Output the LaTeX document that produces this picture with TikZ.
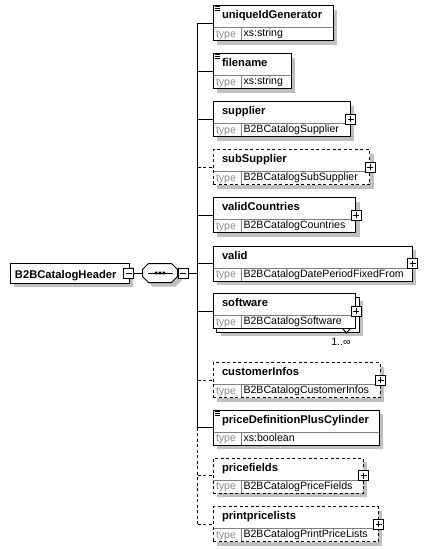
\documentclass[tikz,border=0pt]{standalone}
\usepackage{fontspec}
\setmainfont{Liberation Sans}
\usetikzlibrary{shapes.misc, shadows}

\definecolor{shadowgray}{RGB}{192,192,192}
\definecolor{divgray}{RGB}{128,128,128}
\definecolor{typegray}{RGB}{140,140,140}

\begin{document}
\begin{tikzpicture}[x=1pt, y=-1pt, line width=1pt, line join=miter,
	boxbase/.style={draw, fill=white, anchor=north west, inner sep=0pt, minimum height=35pt},
	shadowed/.style={drop shadow={shadow xshift=4pt, shadow yshift=-4pt, fill=shadowgray, opacity=1}},
	typed/.style={path picture={
		\draw[divgray, solid] ([yshift=-22pt]path picture bounding box.north west) -- ([yshift=-22pt]path picture bounding box.north east);
		\draw[divgray, solid] ([shift={(28pt,-22pt)}]path picture bounding box.north west) -- ([xshift=28pt]path picture bounding box.south west);
		\node[typelabel] at ([shift={(2.5pt,-31.8pt)}]path picture bounding box.north west) {type};}},
	elbox/.style={boxbase, shadowed, typed},
	optbox/.style={elbox, dash pattern=on 3pt off 2.5pt},
	optline/.style={dash pattern=on 3pt off 2.5pt},
	elname/.style={anchor=base west, inner sep=0pt, font=\bfseries\fontsize{11.2}{13}\selectfont},
	elvalue/.style={anchor=base west, inner sep=0pt, font=\fontsize{10.6}{12}\selectfont},
	typelabel/.style={elvalue, text=typegray, draw=none, fill=none, minimum width=0pt, minimum height=0pt},
	plusbox/.style={draw, solid, fill=white, minimum size=10pt, inner sep=0pt, path picture={
		\draw ([xshift=-3pt]path picture bounding box.center) -- ([xshift=3pt]path picture bounding box.center)
			([yshift=-3pt]path picture bounding box.center) -- ([yshift=3pt]path picture bounding box.center);}},
	minusbox/.style={draw, fill=white, minimum size=10pt, inner sep=0pt, path picture={
		\draw ([xshift=-3pt]path picture bounding box.center) -- ([xshift=3pt]path picture bounding box.center);}},
	octbox/.style={chamfered rectangle, chamfered rectangle xsep=3.5pt, chamfered rectangle ysep=3.5pt, draw, fill=white, inner sep=0pt, shadowed},
	simpleicon/.style={line width=0.8pt, line cap=butt}]

	\useasboundingbox (0,0) rectangle (426,550);

	% header and sequence
	\node[octbox, minimum width=119pt, minimum height=20pt] (hdr) at (69.5,273) {};
	\node[elname] at ([shift={(5pt,-5.3pt)}]hdr.west) {B2BCatalogHeader};
	\node[minusbox] (hdrminus) at ([xshift=-1pt]hdr.east) {};
	\node[inner sep=0pt, minimum width=34pt, minimum height=18pt] (seq) at (160,273) {};
	\draw[fill=white, shadowed] ([xshift=6pt]seq.north west) -- ([xshift=-6pt]seq.north east) -- ([yshift=-6pt]seq.north east)
		-- ([yshift=6pt]seq.south east) -- ([xshift=-6pt]seq.south east) -- ([xshift=6pt]seq.south west)
		-- ([yshift=6pt]seq.south west) -- ([yshift=-6pt]seq.north west) -- cycle;
	\draw ([xshift=5pt]seq.west) -- ([xshift=-5pt]seq.east);
	\fill ([shift={(-5.2pt,-1.3pt)}]seq.center) rectangle ++(2.6pt,2.6pt) ([shift={(-1.3pt,-1.3pt)}]seq.center) rectangle ++(2.6pt,2.6pt) ([shift={(2.6pt,-1.3pt)}]seq.center) rectangle ++(2.6pt,2.6pt);
	\node[minusbox, anchor=west] (seqminus) at (seq.east) {};
	\coordinate (spine) at (197.5,273);
	\draw (hdrminus.east) -- (seq.west);
	\draw (seqminus.east) -- (spine);

	% uniqueIdGenerator
	\node[elbox, minimum width=120pt] (uniq) at (212.5,5) {};
	\draw[simpleicon] ([shift={(2pt,-1.5pt)}]uniq.north west) -- ++(5.5pt,0) ++(-5.5pt,-2pt) -- ++(5pt,0) ++(-5pt,-2pt) -- ++(5pt,0);
	\node[elname] at ([shift={(9pt,-13.8pt)}]uniq.north west) {uniqueIdGenerator};
	\node[elvalue] at ([shift={(30.5pt,-31.8pt)}]uniq.north west) {xs:string};

	% filename
	\node[elbox, minimum width=78pt] (fname) at (212.5,53) {};
	\draw[simpleicon] ([shift={(2pt,-1.5pt)}]fname.north west) -- ++(5.5pt,0) ++(-5.5pt,-2pt) -- ++(5pt,0) ++(-5pt,-2pt) -- ++(5pt,0);
	\node[elname] at ([shift={(9pt,-13.8pt)}]fname.north west) {filename};
	\node[elvalue] at ([shift={(30.5pt,-31.8pt)}]fname.north west) {xs:string};

	% supplier
	\node[elbox, minimum width=137pt] (supp) at (212.5,101) {};
	\node[elname] at ([shift={(9pt,-13.8pt)}]supp.north west) {supplier};
	\node[elvalue] at ([shift={(30.5pt,-31.8pt)}]supp.north west) {B2BCatalogSupplier};
	\node[plusbox] (suppplus) at (supp.east) {};

	% subSupplier
	\node[optbox, minimum width=156.5pt] (subsupp) at (212.5,149) {};
	\node[elname] at ([shift={(9pt,-13.8pt)}]subsupp.north west) {subSupplier};
	\node[elvalue] at ([shift={(30.5pt,-31.8pt)}]subsupp.north west) {B2BCatalogSubSupplier};
	\node[plusbox] (subsuppplus) at (subsupp.east) {};

	% validCountries
	\node[elbox, minimum width=142.5pt] (validc) at (212.5,197) {};
	\node[elname] at ([shift={(9pt,-13.8pt)}]validc.north west) {validCountries};
	\node[elvalue] at ([shift={(30.5pt,-31.8pt)}]validc.north west) {B2BCatalogCountries};
	\node[plusbox] (validcplus) at (validc.east) {};

	% valid
	\node[elbox, minimum width=199pt] (valid) at (212.5,245.5) {};
	\node[elname] at ([shift={(9pt,-13.8pt)}]valid.north west) {valid};
	\node[elvalue] at ([shift={(30.5pt,-31.8pt)}]valid.north west) {B2BCatalogDatePeriodFixedFrom};
	\node[plusbox] (validplus) at (valid.east) {};

	% software (1..unbounded)
	\node[boxbase, shadowed, minimum width=142.5pt] (softwback) at (216,296.5) {};
	\node[boxbase, typed, minimum width=142.5pt] (softw) at (212.5,293) {};
	\node[elname] at ([shift={(9pt,-13.8pt)}]softw.north west) {software};
	\node[elvalue] at ([shift={(30.5pt,-31.8pt)}]softw.north west) {B2BCatalogSoftware};
	\node[plusbox] (softwplus) at (softw.east) {};
	\draw[fill=white] ([xshift=-13pt]softw.south east) -- ++(3.5pt,-4pt) -- ++(3.5pt,4pt);
	\node[elvalue, anchor=base] (softwocc) at ([shift={(-15pt,-16pt)}]softw.south east) {1..∞};

	% customerInfos
	\node[optbox, minimum width=167pt] (custinfo) at (212.5,362) {};
	\node[elname] at ([shift={(9pt,-13.8pt)}]custinfo.north west) {customerInfos};
	\node[elvalue] at ([shift={(30.5pt,-31.8pt)}]custinfo.north west) {B2BCatalogCustomerInfos};
	\node[plusbox] (custinfoplus) at (custinfo.east) {};

	% priceDefinitionPlusCylinder
	\node[elbox, minimum width=166pt] (pdpc) at (212.5,409.5) {};
	\draw[simpleicon] ([shift={(2pt,-1.5pt)}]pdpc.north west) -- ++(5.5pt,0) ++(-5.5pt,-2pt) -- ++(5pt,0) ++(-5pt,-2pt) -- ++(5pt,0);
	\node[elname] at ([shift={(9pt,-13.8pt)}]pdpc.north west) {priceDefinitionPlusCylinder};
	\node[elvalue] at ([shift={(30.5pt,-31.8pt)}]pdpc.north west) {xs:boolean};

	% pricefields
	\node[optbox, minimum width=150pt] (pfields) at (212.5,457.5) {};
	\node[elname] at ([shift={(9pt,-13.8pt)}]pfields.north west) {pricefields};
	\node[elvalue] at ([shift={(30.5pt,-31.8pt)}]pfields.north west) {B2BCatalogPriceFields};
	\node[plusbox] (pfieldsplus) at (pfields.east) {};

	% printpricelists
	\node[optbox, minimum width=165pt] (pplists) at (212.5,506) {};
	\node[elname] at ([shift={(9pt,-13.8pt)}]pplists.north west) {printpricelists};
	\node[elvalue] at ([shift={(30.5pt,-31.8pt)}]pplists.north west) {B2BCatalogPrintPriceLists};
	\node[plusbox] (pplistsplus) at (pplists.east) {};

	% connectors
	\draw (spine |- uniq.west) -- (spine |- pdpc.west);
	\draw[optline] (spine |- pdpc.west) -- (spine |- pplists.west);
	\draw (spine |- uniq.west) -- (uniq.west);
	\draw (spine |- fname.west) -- (fname.west);
	\draw (spine |- supp.west) -- (supp.west);
	\draw[optline] (spine |- subsupp.west) -- (subsupp.west);
	\draw (spine |- validc.west) -- (validc.west);
	\draw (spine |- valid.west) -- (valid.west);
	\draw (spine |- softw.west) -- (softw.west);
	\draw[optline] (spine |- custinfo.west) -- (custinfo.west);
	\draw (spine |- pdpc.west) -- (pdpc.west);
	\draw[optline] (spine |- pfields.west) -- (pfields.west);
	\draw[optline] (spine |- pplists.west) -- (pplists.west);
\end{tikzpicture}
\end{document}
